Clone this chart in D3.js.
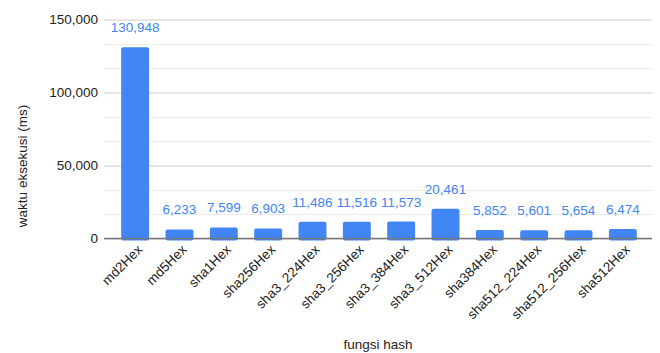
<!DOCTYPE html>
<html>
<head>
<meta charset="utf-8">
<script src="https://cdn.jsdelivr.net/npm/d3@7"></script>
<style>
  body { margin: 0; background: #fff; }
  text { font-family: "Liberation Sans", Arial, sans-serif; }
</style>
</head>
<body>
<div class="chartDiv"></div>
<script>
"use strict"

// data
var hashNames = ["md2Hex", "md5Hex", "sha1Hex", "sha256Hex", "sha3_224Hex", "sha3_256Hex",
                 "sha3_384Hex", "sha3_512Hex", "sha384Hex", "sha512_224Hex", "sha512_256Hex", "sha512Hex"];
var execTimes = [130948, 6233, 7599, 6903, 11486, 11516, 11573, 20461, 5852, 5601, 5654, 6474];
var majorTicks = [0, 50000, 100000, 150000];

var width = 660;
var height = 353;
var plot = {left: 104, right: 652, top: 19.5, bottom: 238.5};
var fontSize = 13.5;
var barColor = "#4285f4";

var svg = d3.select(".chartDiv").append("svg")
    .attr("width", width)
    .attr("height", height);

var x = d3.scaleBand()
    .domain(hashNames)
    .range([113, 645])
    .paddingInner(0.37)
    .paddingOuter(0.185);

var y = d3.scaleLinear()
    .domain([0, 150000])
    .range([plot.bottom, plot.top]);

// minor gridlines (3 per major step)
var minorTicks = d3.range(0, 150001, 50000 / 3).filter(function(v) { return Math.round(v) % 50000 != 0; });

svg.append("g").selectAll("line.minor")
    .data(minorTicks)
    .enter().append("line")
    .attr("x1", plot.left).attr("x2", plot.right)
    .attr("y1", function(d) { return Math.round(y(d)) + 0.5 })
    .attr("y2", function(d) { return Math.round(y(d)) + 0.5 })
    .attr("stroke", "#ebebeb");

// major gridlines + labels
var yAxis = d3.axisLeft(y)
    .tickValues(majorTicks)
    .tickSize(-(plot.right - plot.left))
    .tickPadding(6)
    .tickFormat(d3.format(","));

svg.append("g")
    .attr("transform", "translate(" + plot.left + ",0)")
    .call(yAxis)
    .call(function(g) {
        g.select(".domain").remove();
        g.selectAll(".tick line").attr("stroke", "#cccccc");
        g.selectAll(".tick text")
            .attr("fill", "#222")
            .attr("font-size", fontSize)
            .attr("font-family", "Liberation Sans, Arial, sans-serif");
    });

// bars
svg.append("g").selectAll("rect")
    .data(hashNames)
    .enter().append("rect")
    .attr("x", function(d) { return x(d) })
    .attr("width", x.bandwidth())
    .attr("y", function(d, i) { return y(execTimes[i]) })
    .attr("height", function(d, i) { return y(0) - y(execTimes[i]) + 2 })
    .attr("rx", 2)
    .attr("fill", barColor);

// baseline
svg.append("line")
    .attr("x1", plot.left).attr("x2", plot.right)
    .attr("y1", y(0)).attr("y2", y(0))
    .attr("stroke", "#777")
    .attr("stroke-width", 1.5);

// value labels
svg.append("g").selectAll("text")
    .data(hashNames)
    .enter().append("text")
    .attr("x", function(d) { return x(d) + x.bandwidth() / 2 })
    .attr("y", function(d, i) { return y(execTimes[i]) - 15 })
    .attr("text-anchor", "middle")
    .attr("font-size", fontSize)
    .attr("fill", barColor)
    .text(function(d, i) { return d3.format(",")(execTimes[i]) });

// category labels, rotated
svg.append("g").selectAll("text")
    .data(hashNames)
    .enter().append("text")
    .attr("transform", function(d) {
        return "translate(" + (x(d) + x.bandwidth() / 2 + 8) + "," + (plot.bottom + 12) + ") rotate(-45)";
    })
    .attr("text-anchor", "end")
    .attr("font-size", fontSize)
    .attr("fill", "#222")
    .text(function(d) { return d });

// axis titles
svg.append("text")
    .attr("x", (plot.left + plot.right) / 2)
    .attr("y", 349)
    .attr("text-anchor", "middle")
    .attr("font-size", fontSize)
    .attr("fill", "#222")
    .text("fungsi hash");

svg.append("text")
    .attr("transform", "translate(27,166) rotate(-90)")
    .attr("text-anchor", "middle")
    .attr("font-size", fontSize)
    .attr("fill", "#222")
    .text("waktu eksekusi (ms)");
</script>
</body>
</html>
